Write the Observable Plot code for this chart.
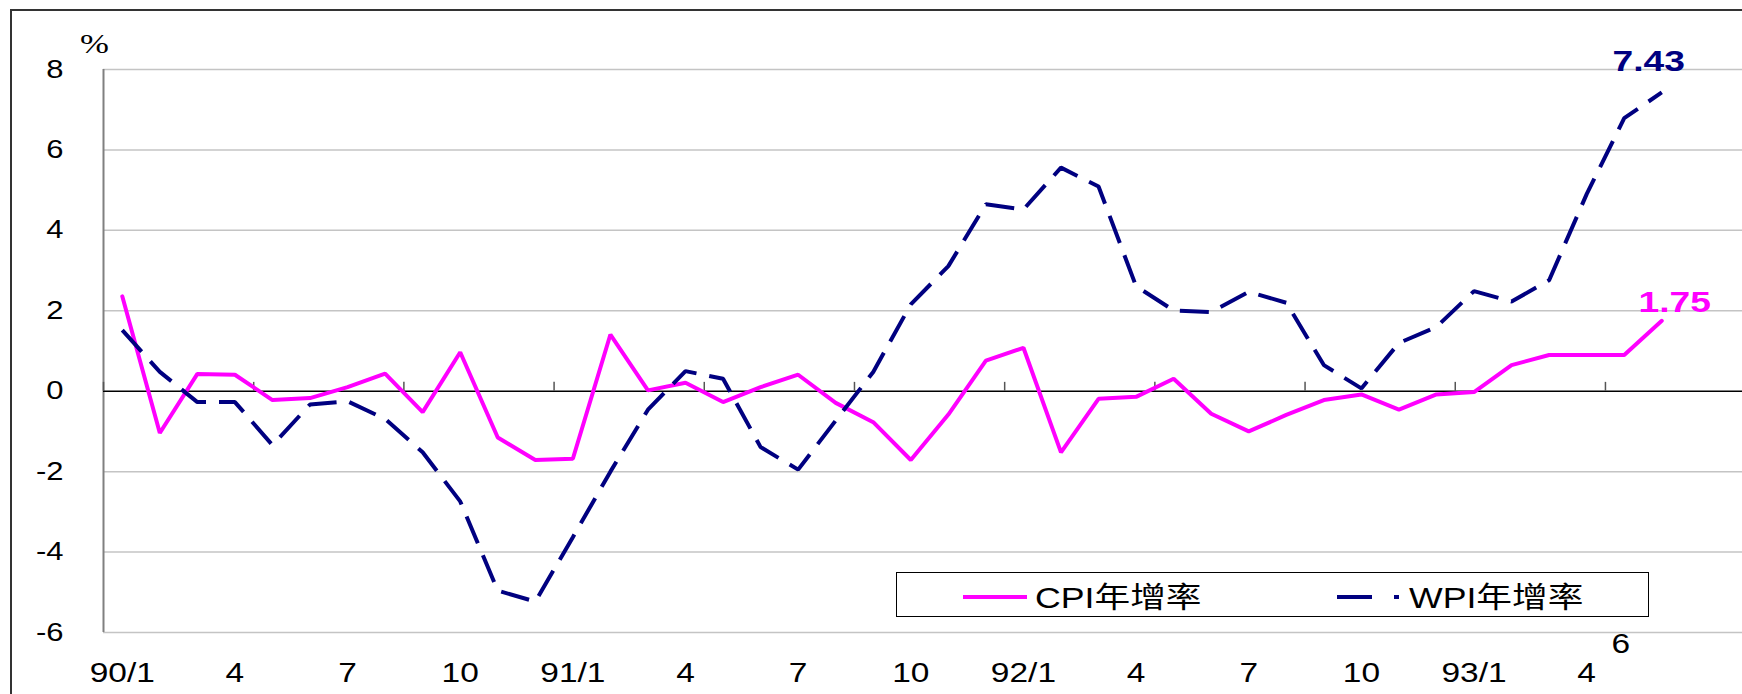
<!DOCTYPE html>
<html>
<head>
<meta charset="utf-8">
<script src="https://cdn.jsdelivr.net/npm/d3@7"></script>
<script src="https://cdn.jsdelivr.net/npm/@observablehq/plot@0.6"></script>
<style>
  body { margin: 0; background: #fff; }
  #wrap { position: relative; width: 1742px; height: 694px; overflow: hidden; background: #fff;
          font-family: "Liberation Sans", Arial, "Noto Sans CJK TC", sans-serif; }
  #frame { position: absolute; left: 10px; top: 9px; width: 2000px; height: 1000px;
           border-left: 2px solid #333; border-top: 2px solid #333; pointer-events: none; }
  #legend { position: absolute; left: 896px; top: 572px; width: 751px; height: 43px;
            border: 1.5px solid #000; background: #fff; }
  #legend .sample { position: absolute; top: 19px; }
  #legend .lab { position: absolute; top: 25px; font-size: 29px; line-height: 1; white-space: nowrap;
                 transform: translateY(-50%) scaleX(1.23); transform-origin: left center; color: #000;
                 font-family: "Liberation Sans", Arial, "Noto Sans CJK TC", sans-serif; }
</style>
</head>
<body>
<div id="wrap">
  <div id="chart"></div>
  <div id="legend"></div>
  <div id="frame"></div>
</div>
<script>
// ---- data ----
const months = [
  "90/1","90/2","90/3","90/4","90/5","90/6","90/7","90/8","90/9","90/10","90/11","90/12",
  "91/1","91/2","91/3","91/4","91/5","91/6","91/7","91/8","91/9","91/10","91/11","91/12",
  "92/1","92/2","92/3","92/4","92/5","92/6","92/7","92/8","92/9","92/10","92/11","92/12",
  "93/1","93/2","93/3","93/4","93/5","93/6"
];
const cpi = [
  2.36, -1.04, 0.43, 0.41, -0.22, -0.17, 0.10, 0.44, -0.52, 0.97, -1.15, -1.71,
  -1.68, 1.41, 0.02, 0.21, -0.27, 0.10, 0.41, -0.29, -0.77, -1.71, -0.58, 0.76,
  1.08, -1.52, -0.19, -0.14, 0.31, -0.56, -1.00, -0.59, -0.22, -0.08, -0.46, -0.08,
  -0.02, 0.65, 0.90, 0.90, 0.90, 1.75
];
const wpi = [
  1.52, 0.48, -0.27, -0.27, -1.34, -0.33, -0.25, -0.69, -1.52, -2.74, -4.96, -5.23,
  -3.63, -2.00, -0.46, 0.50, 0.31, -1.39, -1.95, -0.73, 0.48, 2.16, 3.11, 4.65,
  4.52, 5.56, 5.09, 2.61, 2.01, 1.97, 2.47, 2.20, 0.65, 0.07, 1.20, 1.60,
  2.49, 2.23, 2.76, 4.90, 6.79, 7.43
];
const seriesNames = ["CPI年增率", "WPI年增率"];
const seriesColors = ["#ff00ff", "#000080"];
const xTickLabels = ["90/1","4","7","10","91/1","4","7","10","92/1","4","7","10","93/1","4"];
const xTickMonths = ["90/1","90/4","90/7","90/10","91/1","91/4","91/7","91/10","92/1","92/4","92/7","92/10","93/1","93/4"];
const extraXLabel = ["6"];
const yTicks = [-6, -4, -2, 0, 2, 4, 6, 8];
const yUnit = "%";

// ---- build tables ----
const idx = months.map((_, i) => i);
const cpiData = idx.map(i => ({i, v: cpi[i]}));
const wpiData = idx.map(i => ({i, v: wpi[i]}));
const xTicks = xTickMonths.map((m, k) => ({i: months.indexOf(m), label: xTickLabels[k]}));
const tickMarks = d3.range(-0.5, months.length, 4);
const lastC = cpiData[cpiData.length - 1];
const lastW = wpiData[wpiData.length - 1];

const plot = Plot.plot({
  width: 1742,
  height: 694,
  marginLeft: 103,
  marginRight: 0,
  marginTop: 69,
  marginBottom: 62,
  style: {fontFamily: "Liberation Sans, Arial, sans-serif", background: "transparent", color: "#000"},
  x: {type: "linear", domain: [-0.5, months.length + 1.15], axis: null},
  y: {domain: [-6, 8], axis: null},
  marks: [
    Plot.gridY(yTicks.filter(d => d !== 0), {stroke: "#c4c4c4", strokeOpacity: 1, strokeWidth: 1.5}),
    Plot.ruleX([-0.5], {stroke: "#808080", strokeWidth: 2}),
    Plot.ruleY([0], {stroke: "#000", strokeWidth: 1.5}),
    Plot.ruleX(tickMarks, {x: d => d, y1: 0, y2: 0.22, stroke: "#555", strokeWidth: 1.5}),
    Plot.line(cpiData, {x: "i", y: "v", stroke: seriesColors[0], strokeWidth: 4, strokeLinejoin: "miter"}),
    Plot.line(wpiData, {x: "i", y: "v", stroke: seriesColors[1], strokeWidth: 4,
                        strokeDasharray: "29,13", strokeLinecap: "butt", strokeLinejoin: "miter"}),
    Plot.text([lastW], {x: "i", y: "v", text: d => d.v.toFixed(2), fill: seriesColors[1],
                        fontWeight: "bold", fontSize: 30, dx: -13, dy: -31}),
    Plot.text([lastC], {x: "i", y: "v", text: d => d.v.toFixed(2), fill: seriesColors[0],
                        fontWeight: "bold", fontSize: 30, dx: 13, dy: -18}),
    // y tick labels
    Plot.text(yTicks, {y: d => d, text: d => String(d), frameAnchor: "left", textAnchor: "end",
                       lineAnchor: "middle", dx: -40, fontSize: 25, fill: "#000"}),
    // x tick labels
    Plot.text(xTicks, {x: "i", text: "label", frameAnchor: "bottom", textAnchor: "middle",
                       lineAnchor: "middle", dy: 41, fontSize: 27, fill: "#000"}),
    Plot.text(extraXLabel, {x: () => months.length - 1, frameAnchor: "bottom", text: d => d,
                            textAnchor: "middle", lineAnchor: "middle", dx: -41, dy: 12, fontSize: 27}),
    Plot.text([yUnit], {frameAnchor: "top-left", text: d => d, textAnchor: "middle", lineAnchor: "middle",
                        dx: -9, dy: -25, fontSize: 28, fontFamily: "Liberation Serif, Times New Roman, serif"})
  ]
});

// horizontal stretch of the text (the reference is stretched horizontally)
plot.querySelectorAll("text").forEach(t => {
  const x = parseFloat(t.getAttribute("x")) || 0;
  const tr = t.getAttribute("transform") || "";
  t.setAttribute("transform", `${tr} translate(${x},0) scale(1.24,1) translate(${-x},0)`);
});
document.getElementById("chart").appendChild(plot);

// ---- legend ----
const legend = document.getElementById("legend");
const items = [
  {sampleLeft: 66, textLeft: 138, dash: null},
  {sampleLeft: 440, textLeft: 512, dash: "35,22,5,100"}
];
items.forEach((it, k) => {
  const s = document.createElementNS("http://www.w3.org/2000/svg", "svg");
  s.setAttribute("width", 64); s.setAttribute("height", 10);
  s.setAttribute("class", "sample");
  s.style.left = it.sampleLeft + "px";
  const l = document.createElementNS("http://www.w3.org/2000/svg", "line");
  l.setAttribute("x1", 0); l.setAttribute("x2", 64); l.setAttribute("y1", 5); l.setAttribute("y2", 5);
  l.setAttribute("stroke", seriesColors[k]); l.setAttribute("stroke-width", 4);
  if (it.dash) l.setAttribute("stroke-dasharray", it.dash);
  s.appendChild(l);
  legend.appendChild(s);
  const sp = document.createElement("span");
  sp.className = "lab";
  sp.style.left = it.textLeft + "px";
  sp.textContent = seriesNames[k];
  legend.appendChild(sp);
});
</script>
</body>
</html>
